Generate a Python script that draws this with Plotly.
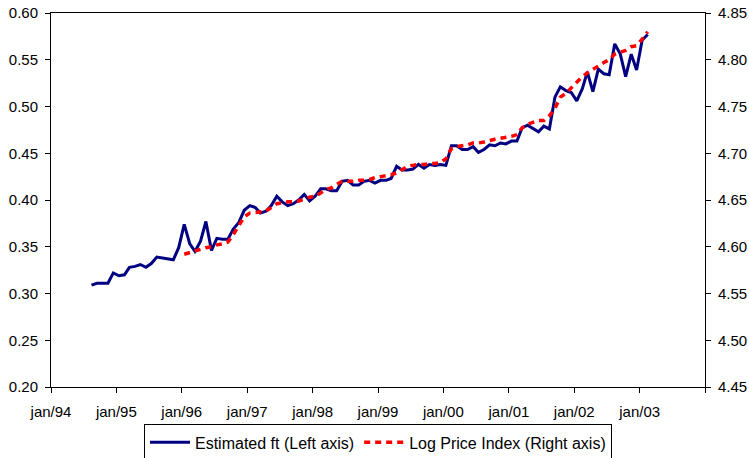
import pandas as pd
import plotly.graph_objects as go

# monthly data, Aug 1994 - Feb 2003 (plotted mid-month)
ft_start = "1994-08-01"
estimated_ft = [
    0.309, 0.311, 0.311, 0.311, 0.322,                                      # 1994 aug-dec
    0.319, 0.320, 0.328, 0.329, 0.331, 0.328, 0.332, 0.339, 0.338, 0.337, 0.336, 0.349,  # 1995
    0.374, 0.353, 0.345, 0.356, 0.377, 0.346, 0.359, 0.358, 0.358, 0.369, 0.376, 0.389,  # 1996
    0.394, 0.392, 0.386, 0.388, 0.394, 0.404, 0.398, 0.394, 0.396, 0.400, 0.406, 0.399,  # 1997
    0.404, 0.412, 0.412, 0.410, 0.410, 0.420, 0.421, 0.416, 0.416, 0.420, 0.421, 0.418,  # 1998
    0.421, 0.421, 0.423, 0.436, 0.432, 0.432, 0.433, 0.438, 0.434, 0.438, 0.437, 0.438,  # 1999
    0.437, 0.458, 0.458, 0.454, 0.454, 0.457, 0.451, 0.454, 0.459, 0.458, 0.461, 0.460,  # 2000
    0.463, 0.463, 0.477, 0.480, 0.477, 0.473, 0.479, 0.476, 0.510, 0.521, 0.517, 0.515,  # 2001
    0.506, 0.519, 0.537, 0.516, 0.540, 0.535, 0.534, 0.567, 0.556, 0.532, 0.556, 0.539,  # 2002
    0.571, 0.577,                                                           # 2003 jan-feb
]

# monthly data, Jan 1996 - Feb 2003
price_start = "1996-01-01"
log_price_index = [
    4.592, 4.594, 4.596, 4.598, 4.599, 4.600, 4.602, 4.603, 4.605, 4.613, 4.622, 4.632,  # 1996
    4.636, 4.637, 4.637, 4.638, 4.642, 4.646, 4.647, 4.648, 4.648, 4.649, 4.651, 4.653,  # 1997
    4.654, 4.658, 4.661, 4.663, 4.667, 4.670, 4.670, 4.670, 4.671, 4.671, 4.672, 4.674,  # 1998
    4.675, 4.676, 4.677, 4.679, 4.682, 4.686, 4.687, 4.688, 4.688, 4.689, 4.689, 4.690,  # 1999
    4.694, 4.705, 4.707, 4.708, 4.709, 4.711, 4.711, 4.712, 4.714, 4.715, 4.716, 4.717,  # 2000
    4.718, 4.720, 4.727, 4.731, 4.733, 4.735, 4.735, 4.740, 4.748, 4.760, 4.764, 4.770,  # 2001
    4.776, 4.782, 4.786, 4.790, 4.794, 4.797, 4.800, 4.806, 4.808, 4.810, 4.814, 4.815,  # 2002
    4.822, 4.830,                                                           # 2003
]

years = list(range(1994, 2005))
tick_labels = ["jan/%02d" % (y % 100) for y in years[:-1]] + [""]

ft_dates = pd.date_range(ft_start, periods=len(estimated_ft), freq="MS") + pd.Timedelta(days=14)
price_dates = pd.date_range(price_start, periods=len(log_price_index), freq="MS") + pd.Timedelta(days=14)
tick_dates = [pd.Timestamp(y, 1, 1) for y in years]

font = "Liberation Sans, Arial, sans-serif"

fig = go.Figure()
fig.add_trace(go.Scatter(x=ft_dates, y=estimated_ft, mode="lines", name="Estimated ft (Left axis)",
                         line=dict(color="#000080", width=3)))
fig.add_trace(go.Scatter(x=price_dates, y=log_price_index, mode="lines", name="Log Price Index (Right axis)",
                         yaxis="y2", line=dict(color="#ff0000", width=3.5, dash="6px,5px")))

x_common = dict(range=[tick_dates[0], tick_dates[-1]], tickmode="array", tickvals=tick_dates,
                automargin=False)
y_ticks = [round(0.20 + 0.05 * i, 2) for i in range(9)]
y2_ticks = [round(4.45 + 0.05 * i, 2) for i in range(9)]

fig.update_layout(
    width=749, height=458,
    margin=dict(l=51, r=44, t=13, b=71, autoexpand=False),
    paper_bgcolor="white", plot_bgcolor="white",
    font=dict(family=font, size=15, color="black"),
    showlegend=True,
    legend=dict(orientation="h", x=0.5, xanchor="center", y=-0.1, yanchor="top",
                bordercolor="black", borderwidth=1, bgcolor="white",
                font=dict(size=16), itemwidth=40, tracegroupgap=0),
    xaxis=dict(**x_common, ticktext=tick_labels, showline=True, linecolor="black", linewidth=1,
               mirror=True, ticks="outside", ticklen=5, tickcolor="black", showgrid=False,
               zeroline=False, ticklabelstandoff=6),
    xaxis2=dict(**x_common, overlaying="x", ticktext=[""] * len(tick_dates), ticks="inside",
                ticklen=4, tickcolor="black", showgrid=False, showline=False, zeroline=False),
    yaxis=dict(range=[0.20, 0.60], tickmode="array", tickvals=y_ticks, tickformat=".2f",
               showline=True, linecolor="black", linewidth=1, ticks="outside", ticklen=5,
               tickcolor="black", showgrid=False, zeroline=False, ticklabelstandoff=4,
               automargin=False, ticklabeloverflow="allow"),
    yaxis2=dict(range=[4.45, 4.85], tickmode="array", tickvals=y2_ticks, tickformat=".2f",
                overlaying="y", side="right", showline=True, linecolor="black", linewidth=1,
                ticks="outside", ticklen=5, tickcolor="black", showgrid=False, zeroline=False,
                ticklabelstandoff=4, automargin=False, ticklabeloverflow="allow"),
    yaxis3=dict(range=[0.20, 0.60], overlaying="y", tickmode="array", tickvals=y_ticks,
                showticklabels=False, ticks="inside", ticklen=4, tickcolor="black",
                showgrid=False, zeroline=False, showline=False, automargin=False),
    yaxis4=dict(range=[4.45, 4.85], overlaying="y", side="right", tickmode="array", tickvals=y2_ticks,
                showticklabels=False, ticks="inside", ticklen=4, tickcolor="black",
                showgrid=False, zeroline=False, showline=False, automargin=False),
)

# drop the default page margin so the figure fills the window exactly
fig.write_html("out.html", config={"displayModeBar": False},
               post_script="document.body.style.margin='0';document.body.style.overflow='hidden';")
